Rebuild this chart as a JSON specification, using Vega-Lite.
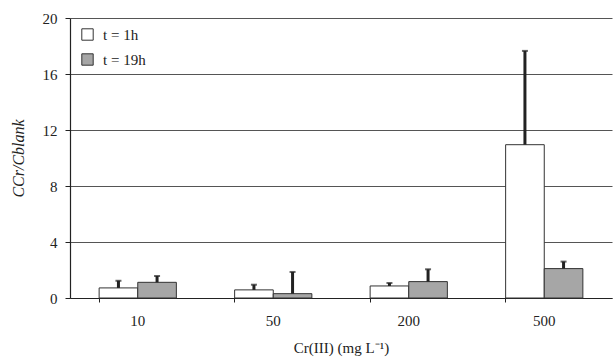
{
  "$schema": "https://vega.github.io/schema/vega-lite/v6.json",
  "width": 542,
  "height": 280,
  "autosize": {"type": "none"},
  "padding": {"left": 70, "top": 18, "right": 1, "bottom": 61},
  "background": "white",
  "config": {
    "font": "Liberation Serif",
    "view": {"stroke": null},
    "axis": {"labelFont": "Liberation Serif", "titleFont": "Liberation Serif", "labelFontSize": 15, "titleFontSize": 15, "labelColor": "#222", "titleColor": "#222", "titleFontWeight": "normal", "domainColor": "#222", "tickColor": "#222"}
  },
  "data": {
    "values": [
      {"conc": "10", "time": "t = 1h", "value": 0.72, "err": 1.23},
      {"conc": "10", "time": "t = 19h", "value": 1.12, "err": 1.57},
      {"conc": "50", "time": "t = 1h", "value": 0.58, "err": 0.95},
      {"conc": "50", "time": "t = 19h", "value": 0.31, "err": 1.86},
      {"conc": "200", "time": "t = 1h", "value": 0.86, "err": 1.07},
      {"conc": "200", "time": "t = 19h", "value": 1.17, "err": 2.05},
      {"conc": "500", "time": "t = 1h", "value": 10.95, "err": 17.65},
      {"conc": "500", "time": "t = 19h", "value": 2.1, "err": 2.6}
    ]
  },
  "encoding": {
    "x": {
      "field": "conc", "type": "nominal", "sort": ["10", "50", "200", "500"],
      "scale": {"paddingInner": 0.43, "paddingOuter": 0.215},
      "axis": {"title": "Cr(III) (mg L\u207B\u00B9)", "labelAngle": 0, "bandPosition": 0, "grid": false, "tickSize": 4, "labelPadding": 11, "titlePadding": 12, "domainWidth": 1.2}
    },
    "xOffset": {"field": "time", "type": "nominal", "sort": ["t = 1h", "t = 19h"]}
  },
  "layer": [
    {
      "mark": {"type": "bar", "stroke": "#333", "strokeWidth": 1},
      "encoding": {
        "y": {
          "field": "value", "type": "quantitative",
          "scale": {"domain": [0, 20], "nice": false},
          "axis": {"values": [0, 4, 8, 12, 16, 20], "title": "CCr/Cblank", "titleFontStyle": "italic", "titleFontSize": 16, "grid": true, "gridColor": "#555", "gridWidth": 1, "tickSize": 5, "labelPadding": 8, "titlePadding": 16, "domainWidth": 1.2}
        },
        "color": {
          "field": "time", "type": "nominal",
          "scale": {"domain": ["t = 1h", "t = 19h"], "range": ["#ffffff", "#a6a6a6"]},
          "legend": {"title": null, "orient": "none", "legendX": 10, "legendY": 9, "symbolType": "square", "symbolSize": 130, "symbolStrokeColor": "#333", "symbolStrokeWidth": 1, "labelFontSize": 15, "labelFont": "Liberation Serif", "labelColor": "#222", "rowPadding": 8, "labelOffset": 8}
        }
      }
    },
    {
      "mark": {"type": "rule", "color": "#222", "strokeWidth": 3},
      "encoding": {
        "y": {"field": "value", "type": "quantitative"},
        "y2": {"field": "err"}
      }
    },
    {
      "mark": {"type": "tick", "color": "#222", "orient": "horizontal", "size": 6, "thickness": 2},
      "encoding": {
        "y": {"field": "err", "type": "quantitative"}
      }
    }
  ]
}
